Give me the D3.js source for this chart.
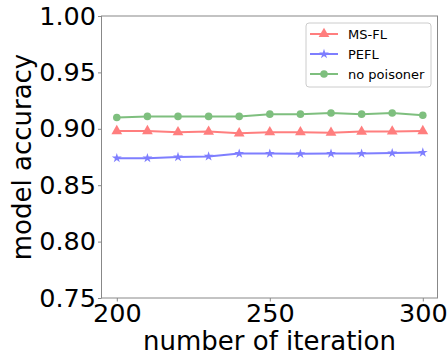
<!DOCTYPE html>
<html>
<head>
<meta charset="utf-8">
<script src="https://cdn.jsdelivr.net/npm/d3@7"></script>
<style>
  body { margin: 0; background: #fff; }
  svg text { font-family: "DejaVu Sans", sans-serif; }
</style>
</head>
<body>
<div id="chart"></div>
<script>
// data
const iterations = [200, 210, 220, 230, 240, 250, 260, 270, 280, 290, 300];
const msfl = [0.898, 0.898, 0.897, 0.8975, 0.896, 0.897, 0.897, 0.8965, 0.8975, 0.8977, 0.898];
const pefl = [0.874, 0.874, 0.875, 0.8755, 0.878, 0.878, 0.8778, 0.878, 0.878, 0.8785, 0.879];
const noPoisoner = [0.910, 0.911, 0.911, 0.911, 0.911, 0.913, 0.913, 0.914, 0.913, 0.914, 0.912];
const xTicks = [200, 250, 300];
const yTicks = [0.75, 0.80, 0.85, 0.90, 0.95, 1.00];

const series = [
  {name: "MS-FL", values: msfl, color: "#ff0000", marker: d3.symbolTriangle, size: 50},
  {name: "PEFL", values: pefl, color: "#0000ff", marker: d3.symbolStar, size: 30},
  {name: "no poisoner", values: noPoisoner, color: "#008000", marker: d3.symbolCircle, size: 45}
];

const W = 447, H = 360;
const margin = {top: 16, right: 9.5, bottom: 62, left: 101.5};

const svg = d3.select("#chart").append("svg")
  .attr("width", W).attr("height", H);

const x = d3.scaleLinear().domain([195, 304.8]).range([margin.left, W - margin.right]);
const y = d3.scaleLinear().domain([0.75, 1.0]).range([H - margin.bottom, margin.top]);

// axes
const xAxis = svg.append("g")
  .attr("transform", `translate(0,${H - margin.bottom})`)
  .call(d3.axisBottom(x).tickValues(xTicks).tickSize(3.5).tickPadding(2).tickFormat(d3.format("d")));
const yAxis = svg.append("g")
  .attr("transform", `translate(${margin.left},0)`)
  .call(d3.axisLeft(y).tickValues(yTicks).tickSize(3.5).tickPadding(2).tickFormat(d3.format(".2f")));

[xAxis, yAxis].forEach(g => {
  g.select(".domain").remove();
  g.selectAll(".tick line").attr("stroke", "#888");
  g.selectAll(".tick text").attr("fill", "#000").style("font-size", "25.5px");
});

// frame
svg.append("rect")
  .attr("x", margin.left).attr("y", margin.top)
  .attr("width", W - margin.right - margin.left)
  .attr("height", H - margin.bottom - margin.top)
  .attr("fill", "none").attr("stroke", "#888").attr("stroke-width", 1);

// lines and markers
const line = d3.line().x((d, i) => x(iterations[i])).y(d => y(d));
series.forEach(s => {
  const g = svg.append("g").attr("opacity", 0.5);
  g.append("path")
    .attr("d", line(s.values))
    .attr("fill", "none")
    .attr("stroke", s.color)
    .attr("stroke-width", 2);
  g.selectAll("path.pt")
    .data(s.values)
    .enter().append("path")
    .attr("class", "pt")
    .attr("transform", (d, i) => `translate(${x(iterations[i])},${y(d)})`)
    .attr("d", d3.symbol().type(s.marker).size(s.size))
    .attr("fill", s.color);
});

// legend
const legend = svg.append("g").attr("transform", "translate(306,23)");
legend.append("rect")
  .attr("width", 125).attr("height", 64).attr("rx", 3)
  .attr("fill", "#fff").attr("fill-opacity", 0.8)
  .attr("stroke", "#ccc");
series.forEach((s, i) => {
  const row = legend.append("g").attr("transform", `translate(0,${11 + i * 20})`);
  const sw = row.append("g").attr("opacity", 0.5);
  sw.append("line").attr("x1", 4).attr("x2", 32)
    .attr("stroke", s.color).attr("stroke-width", 2);
  sw.append("path").attr("transform", "translate(18,0)")
    .attr("d", d3.symbol().type(s.marker).size(s.size)).attr("fill", s.color);
  row.append("text").attr("x", 42).attr("dy", "0.35em")
    .style("font-size", "13px").text(s.name);
});

// axis titles
svg.append("text")
  .attr("x", (margin.left + W - margin.right) / 2).attr("y", 350)
  .attr("text-anchor", "middle").style("font-size", "26px")
  .text("number of iteration");
svg.append("text")
  .attr("transform", `translate(31,${(margin.top + H - margin.bottom) / 2}) rotate(-90)`)
  .attr("text-anchor", "middle").style("font-size", "26px")
  .text("model accuracy");
</script>
</body>
</html>
